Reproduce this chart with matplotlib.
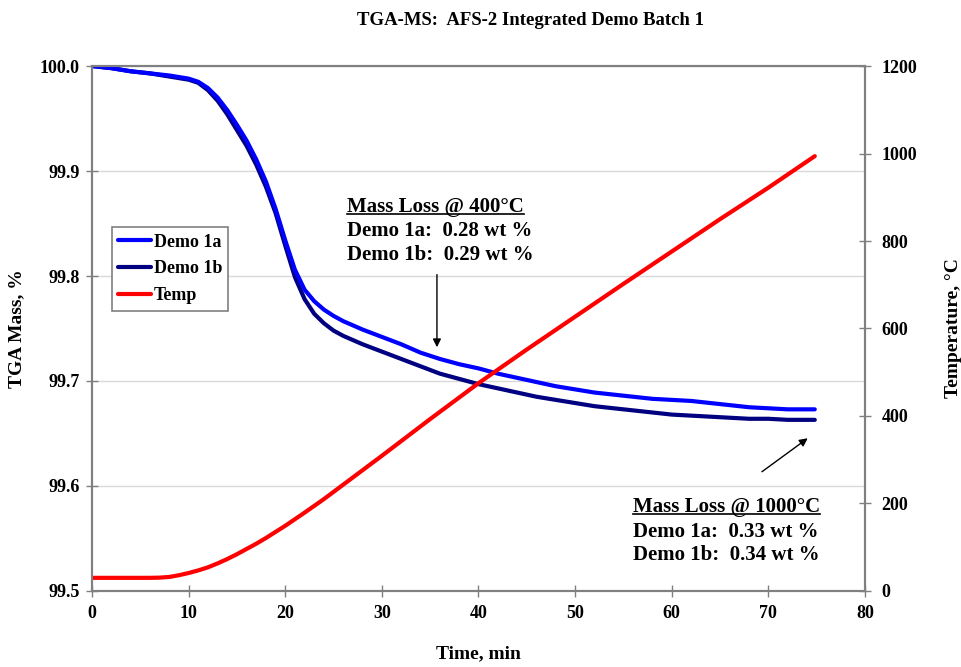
import matplotlib
matplotlib.use("Agg")
import matplotlib.pyplot as plt
from matplotlib.lines import Line2D

plt.rcParams['font.family'] = ['Liberation Serif', 'DejaVu Serif']
plt.rcParams['font.weight'] = 'bold'
plt.rcParams['axes.labelweight'] = 'bold'

# Demo 1a / 1b mass (%) and furnace temperature
t_mass = [0, 2, 4, 6, 8, 10, 11, 12, 13, 14, 15, 16, 17, 18, 19, 20, 21, 22,
          23, 24, 25, 26, 28, 30, 32, 34, 36, 38, 40, 42, 44, 46, 48, 50, 52,
          54, 56, 58, 60, 62, 64, 66, 68, 70, 72, 74.8]
demo_1a = [100.000, 99.998, 99.995, 99.993, 99.991, 99.988, 99.985, 99.979,
           99.970, 99.958, 99.944, 99.929, 99.911, 99.890, 99.864, 99.834,
           99.806, 99.787, 99.776, 99.768, 99.762, 99.757, 99.749, 99.742,
           99.735, 99.727, 99.721, 99.716, 99.712, 99.707, 99.703, 99.699,
           99.695, 99.692, 99.689, 99.687, 99.685, 99.683, 99.682, 99.681,
           99.679, 99.677, 99.675, 99.674, 99.673, 99.673]
demo_1b = [100.000, 99.998, 99.995, 99.993, 99.990, 99.987, 99.984, 99.977,
           99.967, 99.954, 99.939, 99.924, 99.906, 99.885, 99.860, 99.829,
           99.799, 99.778, 99.764, 99.755, 99.748, 99.743, 99.735, 99.728,
           99.721, 99.714, 99.707, 99.702, 99.697, 99.693, 99.689, 99.685,
           99.682, 99.679, 99.676, 99.674, 99.672, 99.670, 99.668, 99.667,
           99.666, 99.665, 99.664, 99.664, 99.663, 99.663]

t_temp = [0, 2, 4, 6, 7, 8, 9, 10, 11, 12, 13, 14, 15, 16, 17, 18, 19, 20, 21,
          22, 24, 26, 28, 30, 35, 40, 45, 50, 55, 60, 65, 70, 74.8]
temp = [30, 30, 30, 30, 30.5, 32, 36, 41, 47, 54, 63, 73, 84, 96, 108, 121,
        135, 149, 164, 179, 210, 243, 276, 309, 393, 475, 552, 627, 702, 776,
        850, 922, 994]

x_ticks = [0, 10, 20, 30, 40, 50, 60, 70, 80]
mass_ticks = [99.5, 99.6, 99.7, 99.8, 99.9, 100.0]
temp_ticks = [0, 200, 400, 600, 800, 1000, 1200]

note_400 = ["Mass Loss @ 400°C", "Demo 1a:  0.28 wt %", "Demo 1b:  0.29 wt %"]
note_1000 = ["Mass Loss @ 1000°C", "Demo 1a:  0.33 wt %", "Demo 1b:  0.34 wt %"]

grey = '#808080'

fig = plt.figure(figsize=(9.62, 6.67), dpi=100)
ax = fig.add_axes([0.0956, 0.114, 0.8036, 0.787])
ax2 = ax.twinx()

kw = dict(lw=3, solid_joinstyle='round', solid_capstyle='round')
l1, = ax.plot(t_mass, demo_1b, color='#000080', label='Demo 1b', **kw)
l0, = ax.plot(t_mass, demo_1a, color='#0000FF', label='Demo 1a', **kw)
l2, = ax2.plot(t_temp, temp, color='#FF0000', label='Temp', **kw)

ax.set_xlim(0, 80)
ax.set_ylim(99.5, 100.0)
ax2.set_ylim(0, 1200)
ax.set_xticks(x_ticks)
ax.set_yticks(mass_ticks)
ax.set_yticklabels([f"{v:.1f}" for v in mass_ticks])
ax2.set_yticks(temp_ticks)

ax.grid(axis='y', color='#d9d9d9', lw=1)
ax.set_axisbelow(True)

for a in (ax, ax2):
    for s in a.spines.values():
        s.set_color(grey)
        s.set_linewidth(1.5)
    a.tick_params(direction='inout', length=8, width=1, color=grey,
                  labelsize=13)
ax.tick_params(axis='y', pad=5)
ax.tick_params(axis='x', pad=6)
ax2.tick_params(axis='y', pad=8)

ax.set_xlabel('Time, min', fontsize=14, labelpad=17)
ax.set_ylabel('TGA Mass, %', fontsize=14, labelpad=10)
ax2.set_ylabel('Temperature, °C', fontsize=14, labelpad=20)
fig.text(0.551, 0.970, 'TGA-MS:  AFS-2 Integrated Demo Batch 1',
         fontsize=13.5, fontweight='bold', ha='center', va='center')

leg = ax2.legend(handles=[l0, l1, l2], loc='upper left',
                 bbox_to_anchor=(0.026, 0.693), fontsize=13,
                 fancybox=False, framealpha=1, edgecolor=grey,
                 handlelength=1.8, handletextpad=0.15, labelspacing=0.55,
                 borderpad=0.35, borderaxespad=0)
leg.get_frame().set_linewidth(1.2)

# annotation blocks (data coordinates of the left axis)
txts = []
for lines, x0, ys in [(note_400, 26.4, [99.861, 99.838, 99.815]),
                      (note_1000, 56.0, [99.575, 99.551, 99.5295])]:
    for k, (s, yy) in enumerate(zip(lines, ys)):
        tx = ax.text(x0, yy, s, fontsize=15, ha='left', va='baseline',
                     zorder=5)
        if k == 0:
            txts.append((tx, x0, yy))

ax.annotate('', xy=(35.7, 99.7295), xytext=(35.7, 99.804),
            arrowprops=dict(arrowstyle='-|>', color='black', lw=1,
                            mutation_scale=12))
ax.annotate('', xy=(74.3, 99.647), xytext=(69.1, 99.612),
            arrowprops=dict(arrowstyle='-|>', color='black', lw=1,
                            mutation_scale=12))

# underline the headings
fig.canvas.draw()
inv = fig.transFigure.inverted()
for tx, x0, yy in txts:
    bb = tx.get_window_extent()
    base = ax.transData.transform((x0, yy))[1] - 2
    p0 = inv.transform((bb.x0, base))
    p1 = inv.transform((bb.x1, base))
    fig.add_artist(Line2D([p0[0], p1[0]], [p0[1], p1[1]], color='black',
                          lw=1.2, transform=fig.transFigure))

fig.savefig('out.png', dpi=100)
